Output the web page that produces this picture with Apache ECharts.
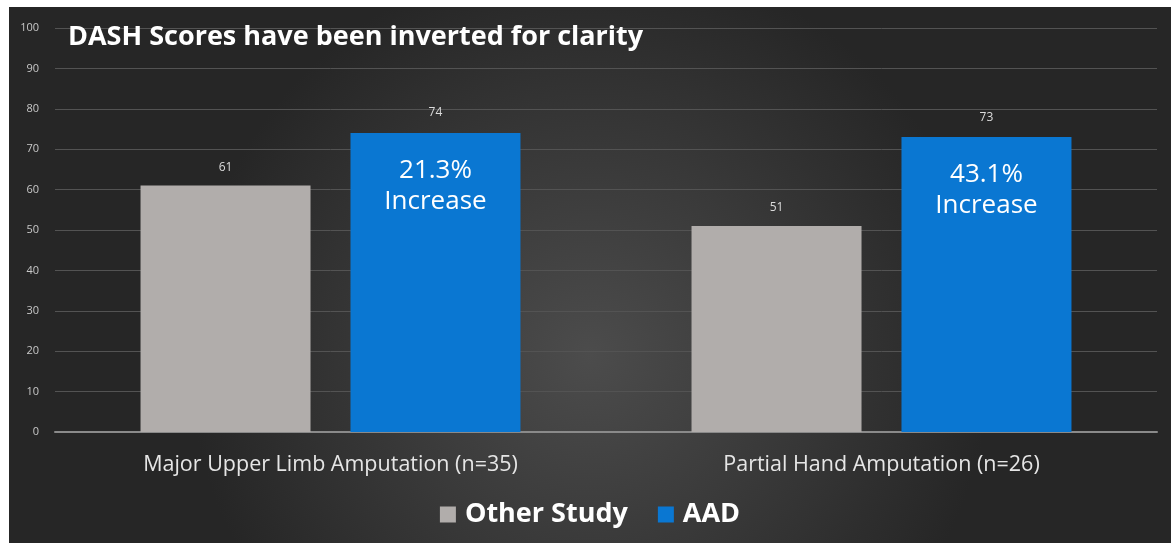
<!DOCTYPE html>
<html><head><meta charset="utf-8">
<script src="https://cdn.jsdelivr.net/npm/echarts@6/dist/echarts.min.js"></script>
<style>
html,body{margin:0;padding:0;background:#fff;}
#c{position:absolute;left:9px;top:7px;width:1162px;height:536px;}
</style></head><body>
<div id="c"></div>
<script>
const categories = ['Major Upper Limb Amputation (n=35)', 'Partial Hand Amputation (n=26)'];
const otherStudy = [61, 51];
const aad = [74, 73];
const increaseText = ['21.3%', '43.1%'];
const yTicks = [0, 10, 20, 30, 40, 50, 60, 70, 80, 90, 100];

const chart = echarts.init(document.getElementById('c'));
const font = '"Open Sans", Lato, sans-serif';
chart.setOption({
  backgroundColor: {
    type: 'radial', x: 0.5, y: 0.65, r: 0.75,
    colorStops: [{offset: 0, color: '#4c4c4c'}, {offset: 1, color: '#262626'}]
  },
  animation: false,
  title: {
    text: 'DASH Scores have been inverted for clarity',
    left: 54, top: 12,
    textStyle: {color: '#ffffff', fontSize: 27, fontWeight: 'bold', fontFamily: font}
  },
  legend: {
    data: ['Other Study', 'AAD'],
    bottom: 10, left: 'center',
    icon: 'rect', itemWidth: 16, itemHeight: 16, itemGap: 30,
    textStyle: {color: '#ffffff', fontSize: 27, fontWeight: 'bold', fontFamily: font, padding: [0, 0, 0, 4]}
  },
  grid: {left: 46, right: 14, top: 21, bottom: 111, containLabel: false},
  xAxis: {
    type: 'category', data: categories,
    axisLine: {lineStyle: {color: '#8a8a8a', width: 2}},
    axisTick: {show: false},
    axisLabel: {color: '#e6e6e6', fontSize: 21.5, margin: 22, fontFamily: font}
  },
  yAxis: {
    type: 'value', min: yTicks[0], max: yTicks[yTicks.length - 1], interval: 10,
    axisLine: {show: false}, axisTick: {show: false},
    splitLine: {lineStyle: {color: '#535353', width: 1}},
    axisLabel: {color: '#c8c8c8', fontSize: 11, margin: 16, fontFamily: font}
  },
  series: [
    {
      name: 'Other Study', type: 'bar', data: otherStudy,
      barWidth: 170, barGap: '23.5%',
      itemStyle: {color: '#b1adab'},
      label: {show: true, position: 'top', distance: 12, color: '#dcdcdc', fontSize: 12, fontFamily: font}
    },
    {
      name: 'AAD', type: 'bar', data: aad,
      barWidth: 170, barGap: '23.5%',
      itemStyle: {color: '#0a77d2'},
      label: {
        show: true, position: 'insideTop', distance: 0, offset: [0, -28],
        formatter: p => '{v|' + p.value + '}\n{g|}\n{p|' + increaseText[p.dataIndex] + '}\n{p|Increase}',
        rich: {
          v: {color: '#dcdcdc', fontSize: 12, lineHeight: 16, fontFamily: font},
          g: {lineHeight: 34, fontSize: 1},
          p: {color: '#ffffff', fontSize: 26, lineHeight: 31, fontFamily: font}
        }
      }
    }
  ]
});
</script></body></html>
